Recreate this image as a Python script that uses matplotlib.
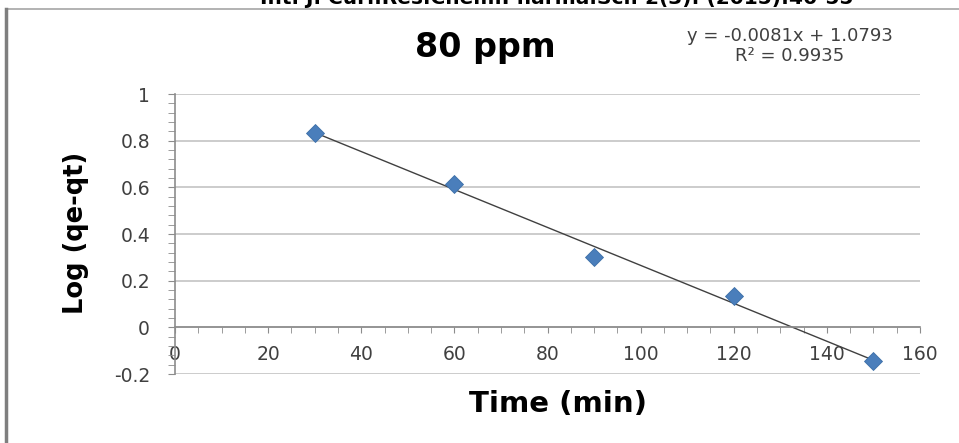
import numpy as np
import matplotlib
matplotlib.use("Agg")
import matplotlib.pyplot as plt
from matplotlib.lines import Line2D
from matplotlib.ticker import MultipleLocator

# data
time_min = [30, 60, 90, 120, 150]
log_qe_qt = [0.833, 0.614, 0.300, 0.133, -0.146]
x_ticks = [0, 20, 40, 60, 80, 100, 120, 140, 160]
y_ticks = [-0.2, 0, 0.2, 0.4, 0.6, 0.8, 1]
y_tick_labels = ["-0.2", "0", "0.2", "0.4", "0.6", "0.8", "1"]

title = "80 ppm"
eq_text = "y = -0.0081x + 1.0793\nR\u00b2 = 0.9935"
header = "Int. J. Curr.Res.Chem.Pharma.Sci. 2(3): (2015):46-55"

plt.rcParams["font.family"] = ["DejaVu Sans"]

fig = plt.figure(figsize=(9.59, 4.43), dpi=100)
ax = fig.add_axes([175 / 959, 69 / 443, 745 / 959, 280 / 443])

ax.set_xlim(0, 160)
ax.set_ylim(-0.2, 1)

# gridlines
for yv in y_ticks:
    ax.axhline(yv, color="#c4c4c4", lw=1.2, zorder=0)

# linear trendline
slope, icpt = np.polyfit(time_min, log_qe_qt, 1)
xs = np.array([min(time_min), max(time_min)])
ax.plot(xs, slope * xs + icpt, color="#404040", lw=1.0, zorder=2)

ax.plot(time_min, log_qe_qt, linestyle="none", marker="D", markersize=9.5,
        color="#4a7ebb", markeredgecolor="#3d6fa8", markeredgewidth=0.6, zorder=3)

for s in ["top", "right"]:
    ax.spines[s].set_visible(False)
ax.spines["bottom"].set_position(("data", 0))
for s in ["bottom", "left"]:
    ax.spines[s].set_color("#8c8c8c")
    ax.spines[s].set_linewidth(1.2)

ax.set_xticks(x_ticks)
ax.set_xticklabels([str(v) for v in x_ticks])
ax.xaxis.set_minor_locator(MultipleLocator(5))
ax.set_yticks(y_ticks)
ax.set_yticklabels(y_tick_labels)
ax.yaxis.set_minor_locator(MultipleLocator(0.04))

ax.tick_params(axis="x", which="both", direction="out", length=4, color="#8c8c8c",
               labelsize=13.5, labelcolor="#404040", pad=9)
ax.tick_params(axis="y", which="both", direction="out", length=5, color="#8c8c8c",
               labelsize=13.5, labelcolor="#404040", pad=13)
ax.set_facecolor("none")

fig.text(485 / 959, 1 - 47 / 443, title, ha="center", va="center",
         fontsize=24, fontweight="bold", color="black")
fig.text(790 / 959, 1 - 46 / 443, eq_text, ha="center", va="center",
         fontsize=13, color="#404040", linespacing=1.15)
fig.text(76 / 959, 1 - 233 / 443, "Log (qe-qt)", ha="center", va="center",
         rotation=90, fontsize=18.5, fontweight="bold", color="black")
fig.text(558 / 959, 1 - 404 / 443, "Time (min)", ha="center", va="center",
         fontsize=21, fontweight="bold", color="black")

# journal header, cut by the top edge as in the scan
fig.text(557 / 959, 1 - 4 / 443, header, ha="center", va="baseline",
         fontsize=14.5, fontweight="bold", color="black")

# chart border pieces visible in the crop
fig.add_artist(Line2D([6 / 959, 1], [1 - 9 / 443, 1 - 9 / 443], color="#a6a6a6", lw=1.2))
fig.add_artist(Line2D([6 / 959, 6 / 959], [0, 1 - 9 / 443], color="#7f7f7f", lw=2.5))

fig.savefig("out.png", dpi=100)
